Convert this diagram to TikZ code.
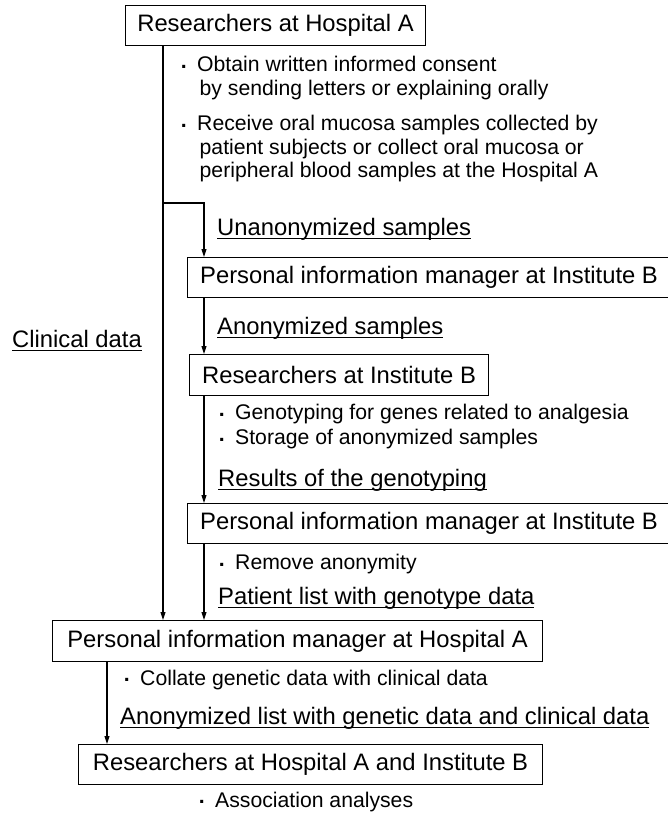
\documentclass[tikz,border=0pt]{standalone}
\usepackage{fontspec}
\setmainfont{Liberation Sans}
\usetikzlibrary{arrows.meta}
\newcommand\labfont{\fontsize{23.8}{26}\selectfont}
\newcommand\bulfont{\fontsize{21.2}{23.5}\selectfont}
\newcommand\bdot{\llap{\raisebox{0.15em}{\bfseries .}\hspace{10.5pt}}}
\newsavebox\myulbox
\newcommand\myul[1]{\sbox\myulbox{#1}\rlap{\rule[-3.6pt]{\wd\myulbox}{1.1pt}}\usebox\myulbox}
\begin{document}
\begin{tikzpicture}[x=1pt,y=-1pt,
  box/.style={draw,line width=1.1pt,inner sep=0pt,font=\labfont,minimum height=40pt,anchor=north west},
  lab/.style={inner sep=0pt,anchor=base west,font=\labfont},
  note/.style={inner sep=0pt,anchor=base west,font=\bulfont},
  arr/.style={line width=1.05pt,-{Triangle[length=8pt,width=5pt]}}]
\useasboundingbox (0,0) rectangle (668,815);

% boxes
\node[box,minimum width=300pt] (rA) at (125,5) {Researchers at Hospital A};
\node[box,minimum width=483pt] (pimB) at (187,257) {Personal information manager at Institute B};
\node[box,minimum width=299pt,minimum height=41pt] (resB) at (189,354) {Researchers at Institute B};
\node[box,minimum width=483pt] (pimB2) at (187,503) {Personal information manager at Institute B};
\node[box,minimum width=490pt,minimum height=41pt] (pimA) at (52,620) {Personal information manager at Hospital A};
\node[box,minimum width=464pt] (rAB) at (78,744) {Researchers at Hospital A and Institute B};

% notes
\node[note] (n1) at (197,71.5) {\begin{tabular}[t]{@{}l@{}}\bdot Obtain written informed consent\\\hspace*{2.5pt}by sending letters or explaining orally\end{tabular}};
\node[note] (n2) at (197,130.5) {\begin{tabular}[t]{@{}l@{}}\bdot Receive oral mucosa samples collected by\\\hspace*{2.5pt}patient subjects or collect oral mucosa or\\\hspace*{2.5pt}peripheral blood samples at the Hospital A\end{tabular}};
\node[note] (n3) at (235,419.5) {\begin{tabular}[t]{@{}l@{}}\bdot Genotyping for genes related to analgesia\\[1.5pt]\bdot Storage of anonymized samples\end{tabular}};
\node[note] (n4) at (235,569.5) {\bdot Remove anonymity};
\node[note] (n5) at (140,685) {\bdot Collate genetic data with clinical data};
\node[note] (n6) at (215,807) {\bdot Association analyses};

% labels
\node[lab] (l1) at (217,235) {\myul{Unanonymized samples}};
\node[lab] (l2) at (12,347) {\myul{Clinical data}};
\node[lab] (l3) at (217,334) {\myul{Anonymized samples}};
\node[lab] (l4) at (218,486) {\myul{Results of the genotyping}};
\node[lab] (l5) at (218,604) {\myul{Patient list with genotype data}};
\node[lab] (l6) at (120,724) {\myul{Anonymized list with genetic data and clinical data}};

% connectors
\coordinate (br) at (163,203);
\draw[arr] ([xshift=38pt]rA.south west) -- ([xshift=111pt]pimA.north west);
\draw[arr] (br) -| ([xshift=17pt]pimB.north west);
\draw[arr] ([xshift=17pt]pimB.south west) -- ([xshift=15pt]resB.north west);
\draw[arr] ([xshift=15pt]resB.south west) -- ([xshift=17pt]pimB2.north west);
\draw[arr] ([xshift=17pt]pimB2.south west) -- ([xshift=152pt]pimA.north west);
\draw[arr] ([xshift=55pt]pimA.south west) -- ([xshift=29pt]rAB.north west);
\end{tikzpicture}
\end{document}
